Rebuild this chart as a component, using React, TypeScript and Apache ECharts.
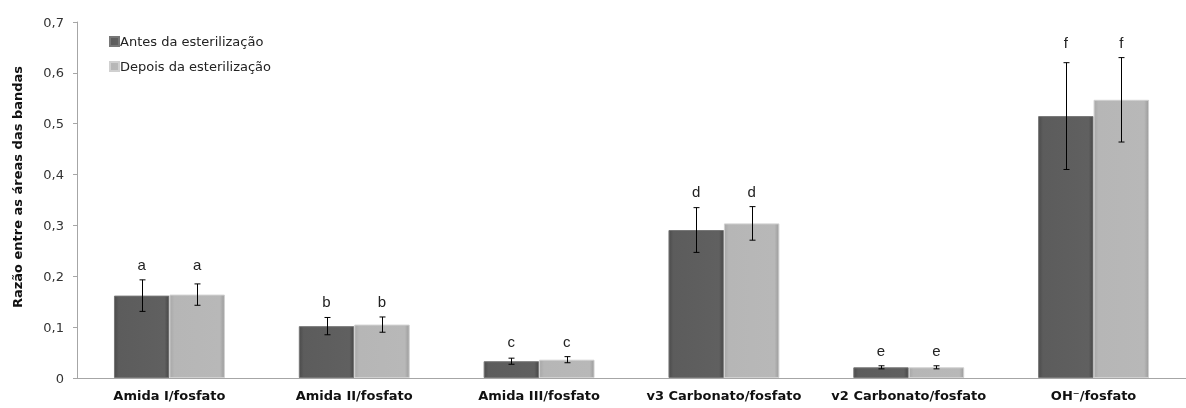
import React, { useEffect, useRef } from "react";
import * as echarts from "echarts";

const categories = [
  "Amida I/fosfato",
  "Amida II/fosfato",
  "Amida III/fosfato",
  "v3 Carbonato/fosfato",
  "v2 Carbonato/fosfato",
  "OH\u207B/fosfato",
];
const seriesNames = ["Antes da esterilização", "Depois da esterilização"];
const antes = [0.162, 0.102, 0.033, 0.291, 0.021, 0.515];
const antesErr = [0.031, 0.017, 0.006, 0.044, 0.003, 0.105];
const depois = [0.164, 0.105, 0.036, 0.304, 0.021, 0.547];
const depoisErr = [0.021, 0.015, 0.006, 0.033, 0.003, 0.083];
const letters = ["a", "b", "c", "d", "e", "f"];
const yTicks = [0, 0.1, 0.2, 0.3, 0.4, 0.5, 0.6, 0.7];

const FONT = "'DejaVu Sans', 'Liberation Sans', Arial, sans-serif";
const FONT2 = "'Liberation Sans', Arial, sans-serif";

export default function App() {
  const ref = useRef<HTMLDivElement>(null);
  useEffect(() => {
    if (!ref.current) return;
    const chart = echarts.init(ref.current, null, { renderer: "svg" });

    const darkFill = new echarts.graphic.LinearGradient(0, 0, 1, 0, [
      { offset: 0, color: "#4c4c4c" },
      { offset: 0.08, color: "#5c5c5c" },
      { offset: 0.92, color: "#606060" },
      { offset: 1, color: "#474747" },
    ]);
    const lightFill = new echarts.graphic.LinearGradient(0, 0, 1, 0, [
      { offset: 0, color: "#a8a8a8" },
      { offset: 0.08, color: "#b6b6b6" },
      { offset: 0.92, color: "#b8b8b8" },
      { offset: 1, color: "#9c9c9c" },
    ]);

    const halfOffset = 0.15;
    const errSeries = (vals: number[], errs: number[], dir: number) => ({
      type: "custom",
      silent: true,
      z: 5,
      data: vals.map((v, i) => [i, v - errs[i], v + errs[i]]),
      encode: { x: 0, y: [1, 2] },
      renderItem: (params: any, api: any) => {
        const i = api.value(0);
        const lo = api.coord([i, api.value(1)]);
        const hi = api.coord([i, api.value(2)]);
        const catW = api.size([1, 0])[0];
        const x = Math.round(lo[0] + dir * halfOffset * catW) + 0.5;
        const cap = 3;
        const st = { stroke: "#000", lineWidth: 1 };
        return {
          type: "group",
          children: [
            { type: "line", shape: { x1: x, y1: lo[1], x2: x, y2: hi[1] }, style: st },
            { type: "line", shape: { x1: x - cap, y1: hi[1], x2: x + cap, y2: hi[1] }, style: st },
            { type: "line", shape: { x1: x - cap, y1: lo[1], x2: x + cap, y2: lo[1] }, style: st },
          ],
        };
      },
    });

    const letterData = categories.map((_, i) => [
      i,
      Math.max(antes[i] + antesErr[i], depois[i] + depoisErr[i]),
    ]);

    chart.setOption({
      animation: false,
      grid: { left: 77, right: 0, top: 22, bottom: 30, containLabel: false },
      legend: {
        orient: "vertical",
        left: 104,
        top: 30,
        itemWidth: 9,
        itemHeight: 9,
        itemGap: 12,
        icon: "rect",
        textStyle: { fontFamily: FONT, fontSize: 13, color: "#222", padding: [0, 0, 0, -4] },
        data: seriesNames,
      },
      xAxis: {
        type: "category",
        data: categories,
        axisLine: { lineStyle: { color: "#a6a6a6", width: 1 } },
        axisTick: { show: false },
        axisLabel: {
          fontFamily: FONT,
          fontWeight: "bold",
          fontSize: 13,
          color: "#111",
          margin: 11,
          interval: 0,
        },
      },
      yAxis: {
        type: "value",
        min: 0,
        max: 0.7,
        interval: 0.1,
        splitLine: { show: false },
        axisLine: { show: true, lineStyle: { color: "#a6a6a6", width: 1 } },
        axisTick: { show: true, length: 4, lineStyle: { color: "#a6a6a6" } },
        axisLabel: {
          fontFamily: FONT,
          fontSize: 13,
          color: "#333",
          margin: 13,
          formatter: (v: number) => {
            const t = yTicks.find((x) => Math.abs(x - v) < 1e-9);
            const val = t === undefined ? v : t;
            return val === 0 ? "0" : val.toFixed(1).replace(".", ",");
          },
        },
      },
      series: [
        {
          name: seriesNames[0],
          type: "bar",
          data: antes,
          barGap: "0%",
          barCategoryGap: "40%",
          itemStyle: { color: darkFill, borderColor: "#777", borderWidth: 1 },
        },
        {
          name: seriesNames[1],
          type: "bar",
          data: depois,
          itemStyle: { color: lightFill, borderColor: "#d0d0d0", borderWidth: 1 },
        },
        errSeries(antes, antesErr, -1),
        errSeries(depois, depoisErr, 1),
        {
          type: "custom",
          silent: true,
          z: 6,
          data: letterData,
          encode: { x: 0, y: 1 },
          renderItem: (params: any, api: any) => {
            const i = api.value(0);
            const p = api.coord([i, api.value(1)]);
            const catW = api.size([1, 0])[0];
            const txt = letters[params.dataIndex];
            const mk = (dx: number) => ({
              type: "text",
              style: {
                text: txt,
                x: p[0] + dx,
                y: p[1] - 15,
                textAlign: "center",
                textVerticalAlign: "middle",
                fontFamily: FONT2,
                fontSize: 15,
                fill: "#222",
              },
            });
            return {
              type: "group",
              children: [mk(-halfOffset * catW), mk(halfOffset * catW)],
            };
          },
        },
      ],
      graphic: [
        {
          type: "text",
          x: 17,
          y: 187,
          rotation: Math.PI / 2,
          style: {
            text: "Razão entre as áreas das bandas",
            textAlign: "center",
            textVerticalAlign: "middle",
            fontFamily: FONT,
            fontWeight: "bold",
            fontSize: 13,
            fill: "#111",
          },
        },
      ],
    });
    return () => chart.dispose();
  }, []);
  return (
    <div
      ref={ref}
      style={{ position: "fixed", left: 0, top: 0, width: 1186, height: 408 }}
    />
  );
}
